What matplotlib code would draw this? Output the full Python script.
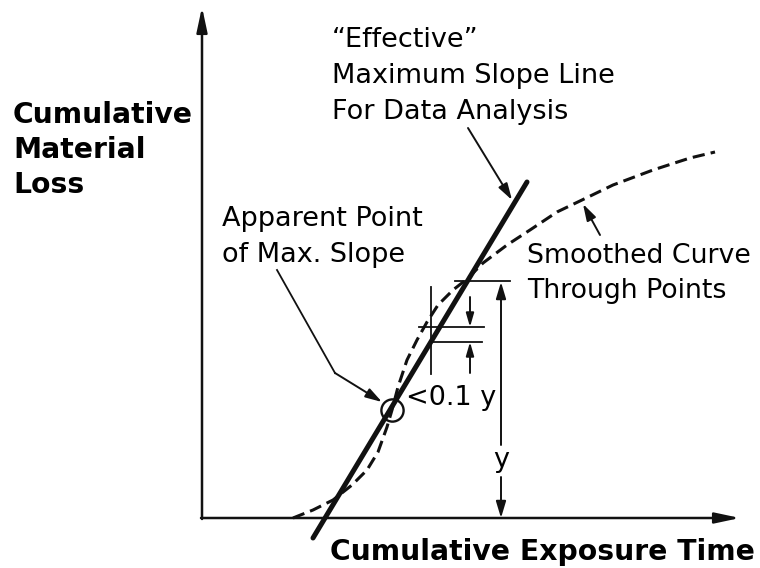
import matplotlib.pyplot as plt

# smoothed curve through points (pixel units, y down)
curve_x = [293, 313, 333, 352, 367, 378, 387, 392, 398, 407, 417, 427, 438, 453,
           467, 483, 507, 530, 557, 582, 613, 653, 690, 715]
curve_y = [518, 510, 500, 485, 470, 452, 427, 410, 387, 360, 340, 322, 305, 290,
           279, 263, 245, 230, 212, 200, 185, 170, 158, 152]

# "effective" maximum slope line
slope_x = [313, 527]
slope_y = [538, 182]

# apparent point of max. slope
point_x = [392]
point_y = [410]

fig = plt.figure(figsize=(7.6, 5.68), dpi=100)
ax = fig.add_axes([0, 0, 1, 1])
ax.set_xlim(0, 760)
ax.set_ylim(568, 0)
ax.axis('off')

ink = '#111111'


def arrow(x0, y0, x1, y1, lw=1.4, hl=0.5, hw=0.15, ms=20):
    ax.annotate('', xy=(x1, y1), xytext=(x0, y0),
                arrowprops=dict(arrowstyle='-|>,head_length=%g,head_width=%g' % (hl, hw),
                                lw=lw, color=ink, shrinkA=0, shrinkB=0,
                                mutation_scale=ms))


# axes
arrow(202, 519, 202, 7, lw=1.8, hl=0.75, hw=0.16)
arrow(201, 518, 740, 518, lw=1.8, hl=0.75, hw=0.16)

# curve and line
ax.plot(curve_x, curve_y, color=ink, lw=2.2, dashes=(4, 2))
ax.plot(slope_x, slope_y, color=ink, lw=3.6, solid_capstyle='round')
ax.plot(point_x, point_y, 'o', ms=16, mfc='none', mec=ink, mew=1.7)

# dimension lines
ax.plot([455, 510], [281, 281], color=ink, lw=1.3)
arrow(501, 445, 501, 282)
arrow(501, 477, 501, 518)
ax.text(501, 467, 'y', fontsize=19.5, ha='center', va='baseline')

ax.plot([431, 431], [287, 374], color=ink, lw=1.3)
ax.plot([419, 484], [327, 327], color=ink, lw=1.3)
ax.plot([432, 482], [342, 342], color=ink, lw=1.3)
arrow(470, 297, 470, 327, hl=0.45, hw=0.13, ms=18)
arrow(470, 373, 470, 342, hl=0.45, hw=0.13, ms=18)
ax.text(406, 405, '<0.1 y', fontsize=19.5, ha='left', va='baseline')

# leaders
ax.plot([277, 335], [270, 373], color=ink, lw=1.3)
arrow(335, 373, 382, 402)
arrow(468, 128, 512, 200)
arrow(600, 235, 583, 204)

# labels
for txt, yb in [('\u201cEffective\u201d', 47), ('Maximum Slope Line', 83),
                ('For Data Analysis', 119)]:
    ax.text(332, yb, txt, fontsize=19.5, ha='left', va='baseline')
for txt, yb in [('Apparent Point', 226), ('of Max. Slope', 262)]:
    ax.text(222, yb, txt, fontsize=19.5, ha='left', va='baseline')
for txt, yb in [('Smoothed Curve', 263), ('Through Points', 298)]:
    ax.text(527, yb, txt, fontsize=19.3, ha='left', va='baseline')
for txt, yb in [('Cumulative', 123), ('Material', 158), ('Loss', 193)]:
    ax.text(13, yb, txt, fontsize=20.3, fontweight='bold', ha='left', va='baseline')
ax.text(330, 560, 'Cumulative Exposure Time', fontsize=20.3, fontweight='bold',
        ha='left', va='baseline')

fig.savefig('out.png', dpi=100)
